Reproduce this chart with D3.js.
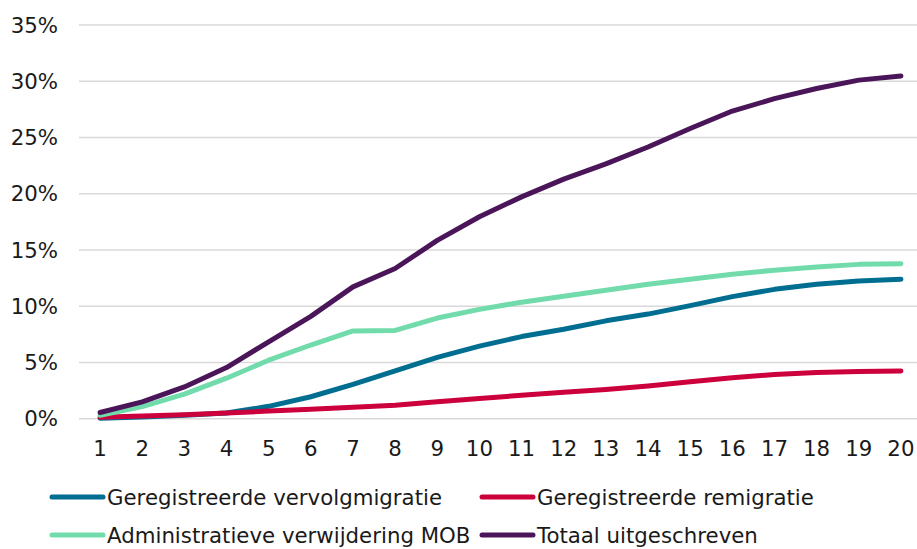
<!DOCTYPE html>
<html>
<head>
<meta charset="utf-8">
<script src="https://cdn.jsdelivr.net/npm/d3@7"></script>
<style>
  body { margin: 0; background: #fff; }
  svg { font-family: "DejaVu Sans", Verdana, sans-serif; }
</style>
</head>
<body>
<div id="chart"></div>
<script>
// jaren na inschrijving
const years = d3.range(1, 21);
const yTicks = [0, 5, 10, 15, 20, 25, 30, 35];

// percentages per jaar
const vervolgmigratie = [0.05, 0.15, 0.3, 0.5, 1.1, 1.95, 3.05, 4.25, 5.45, 6.45, 7.3, 7.95, 8.7, 9.3, 10.05, 10.85, 11.5, 11.95, 12.25, 12.4];
const remigratie = [0.12, 0.25, 0.35, 0.5, 0.68, 0.85, 1.02, 1.2, 1.5, 1.8, 2.08, 2.35, 2.6, 2.9, 3.28, 3.65, 3.93, 4.1, 4.2, 4.24];
const administratief = [0.3, 1.08, 2.18, 3.6, 5.2, 6.55, 7.8, 7.85, 8.95, 9.72, 10.36, 10.88, 11.42, 11.95, 12.4, 12.85, 13.2, 13.48, 13.72, 13.77];
const totaal = [0.55, 1.5, 2.82, 4.55, 6.84, 9.1, 11.72, 13.35, 15.85, 17.95, 19.72, 21.3, 22.65, 24.15, 25.8, 27.35, 28.45, 29.35, 30.1, 30.47];

const series = [
  {name: "Geregistreerde vervolgmigratie", values: vervolgmigratie, color: "#006e90"},
  {name: "Geregistreerde remigratie", values: remigratie, color: "#cc003d"},
  {name: "Administratieve verwijdering MOB", values: administratief, color: "#71dbac"},
  {name: "Totaal uitgeschreven", values: totaal, color: "#4b1559"}
];

const width = 917, height = 549;
const margin = {top: 25, right: -5, bottom: 130, left: 79};
const fontSize = "21.3px";

const svg = d3.select("#chart")
  .append("svg")
  .attr("width", width)
  .attr("height", height);

const x = d3.scaleBand()
  .domain(years)
  .range([margin.left, width - margin.right]);

const y = d3.scaleLinear()
  .domain([0, 35])
  .range([height - margin.bottom - 0.3, margin.top]);

// rasterlijnen
svg.append("g")
  .selectAll("line")
  .data(yTicks)
  .join("line")
  .attr("x1", margin.left)
  .attr("x2", width)
  .attr("y1", d => y(d))
  .attr("y2", d => y(d))
  .attr("stroke", "#d9d9d9")
  .attr("stroke-width", 1.5);

// y-as labels
svg.append("g")
  .selectAll("text")
  .data(yTicks)
  .join("text")
  .attr("x", 58)
  .attr("y", d => y(d))
  .attr("dy", "0.36em")
  .attr("text-anchor", "end")
  .style("font-size", fontSize)
  .style("fill", "#1a1a1a")
  .text(d => d + "%");

// x-as labels
svg.append("g")
  .selectAll("text")
  .data(years)
  .join("text")
  .attr("x", d => x(d) + x.bandwidth() / 2)
  .attr("y", 448)
  .attr("dy", "0.36em")
  .attr("text-anchor", "middle")
  .style("font-size", fontSize)
  .style("fill", "#1a1a1a")
  .text(d => d);

const line = d3.line()
  .x((d, i) => x(years[i]) + x.bandwidth() / 2)
  .y(d => y(d));

svg.append("g")
  .selectAll("path")
  .data(series)
  .join("path")
  .attr("fill", "none")
  .attr("stroke", d => d.color)
  .attr("stroke-width", 5)
  .attr("stroke-linejoin", "round")
  .attr("stroke-linecap", "round")
  .attr("d", d => line(d.values));

// legenda
const legendPos = [
  {lx: 50, ly: 497},
  {lx: 480, ly: 497},
  {lx: 50, ly: 535},
  {lx: 480, ly: 535}
];

const legend = svg.append("g")
  .selectAll("g")
  .data(series)
  .join("g")
  .attr("transform", (d, i) => `translate(${legendPos[i].lx},${legendPos[i].ly})`);

legend.append("line")
  .attr("x1", 2)
  .attr("x2", 53)
  .attr("stroke", d => d.color)
  .attr("stroke-width", 5)
  .attr("stroke-linecap", "round");

legend.append("text")
  .attr("x", 57)
  .attr("dy", "0.36em")
  .style("font-size", fontSize)
  .style("fill", "#1a1a1a")
  .text(d => d.name);
</script>
</body>
</html>
